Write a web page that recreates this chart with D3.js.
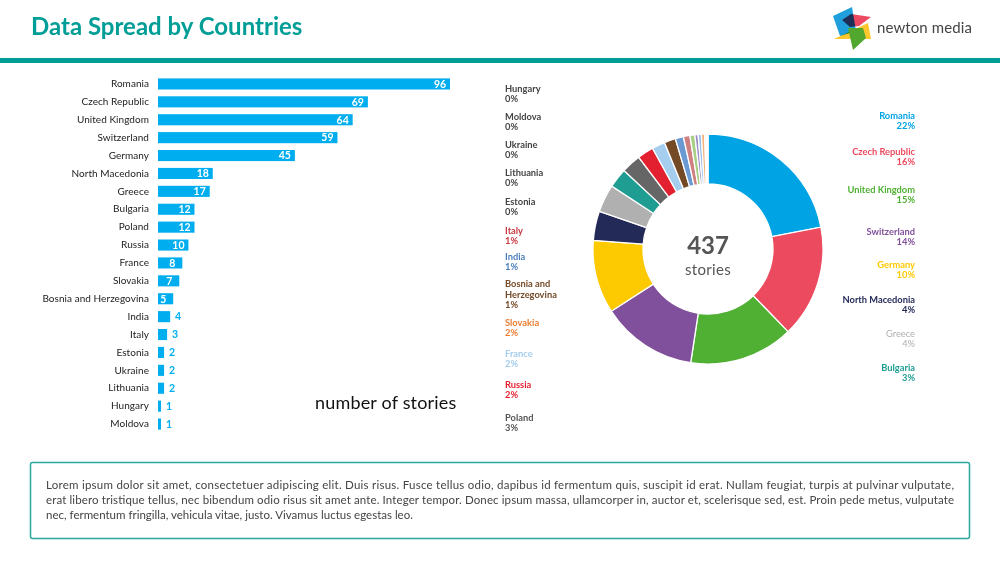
<!DOCTYPE html>
<html>
<head>
<meta charset="utf-8">
<script src="https://cdn.jsdelivr.net/npm/d3@7"></script>
<style>
  html, body { margin: 0; padding: 0; background: #fff; }
  text { font-family: Lato, sans-serif; }
</style>
</head>
<body>
<div id="chart"></div>
<script>
var countries = ["Romania", "Czech Republic", "United Kingdom", "Switzerland", "Germany",
  "North Macedonia", "Greece", "Bulgaria", "Poland", "Russia", "France", "Slovakia",
  "Bosnia and Herzegovina", "India", "Italy", "Estonia", "Ukraine", "Lithuania", "Hungary", "Moldova"];
var stories = [96, 69, 64, 59, 45, 18, 17, 12, 12, 10, 8, 7, 5, 4, 3, 2, 2, 2, 1, 1];
var shares = ["22%", "16%", "15%", "14%", "10%", "4%", "4%", "3%", "3%", "2%", "2%", "2%",
  "1%", "1%", "1%", "0%", "0%", "0%", "0%", "0%"];
var totalStories = "437";
var bodyLines = [
  "Lorem ipsum dolor sit amet, consectetuer adipiscing elit. Duis risus. Fusce tellus odio, dapibus id fermentum quis, suscipit id erat. Nullam feugiat, turpis at pulvinar vulputate,",
  "erat libero tristique tellus, nec bibendum odio risus sit amet ante. Integer tempor. Donec ipsum massa, ullamcorper in, auctor et, scelerisque sed, est. Proin pede metus, vulputate",
  "nec, fermentum fringilla, vehicula vitae, justo. Vivamus luctus egestas leo."
];

// colours, same order as countries
var sliceColors = ["#00a4e4", "#ec4a5e", "#4fb033", "#80509c", "#fdc900", "#232a58", "#b0b0b0", "#1f9d93",
  "#666666", "#e3202f", "#a5cdee", "#744a26", "#6b9ad2", "#cf7f80", "#a9cf86", "#9d8cc4", "#9cc3e6", "#f2b27a", "#e6e6e6", "#f2f2f2"];
var labelColors = ["#00a4e4", "#ec4a5e", "#4fb033", "#80509c", "#fdc900", "#232a58", "#b0b0b0", "#1f9d93",
  "#555555", "#e3202f", "#a5cdee", "#ed7d31", "#744a26", "#4a7ebb", "#c8393f", "#444444", "#444444", "#444444", "#444444", "#444444"];

// hand placed legend rows: first line y of each label
var rightLabelY = {"Romania": 119, "Czech Republic": 155, "United Kingdom": 193, "Switzerland": 235, "Germany": 268,
  "North Macedonia": 303, "Greece": 337, "Bulgaria": 371};
var leftLabelY = {"Hungary": 92, "Moldova": 120, "Ukraine": 148, "Lithuania": 176, "Estonia": 205, "Italy": 234,
  "India": 260, "Bosnia and Herzegovina": 287, "Slovakia": 326, "France": 357, "Russia": 388, "Poland": 421};

var teal = "#009e96";
var barBlue = "#00aeef";

var svg = d3.select("#chart").append("svg")
  .attr("width", 1000)
  .attr("height", 561)
  .style("display", "block");

// header
svg.append("text")
  .attr("x", 31).attr("y", 35)
  .attr("fill", teal)
  .style("font-size", "24px").style("font-weight", 700)
  .text("Data Spread by Countries");

svg.append("rect")
  .attr("x", 0).attr("y", 58).attr("width", 1000).attr("height", 5)
  .attr("fill", teal);

// logo
var logo = svg.append("g").style("isolation", "isolate");
[
  {c: "#fdc72e", p: "834,39 871,39 868,23 851,31", blend: "multiply"},
  {c: "#1fa0dc", p: "833,16 852,7 856,31 840,36", blend: "multiply"},
  {c: "#ec4a63", p: "842,20 851,14 871,17 859,26 850,27", blend: "multiply"},
  {c: "#52a72f", p: "848,28 863,28 866,38 853,50", blend: "normal"}
].forEach(function(d) {
  logo.append("polygon").attr("points", d.p).attr("fill", d.c).style("mix-blend-mode", d.blend);
});
svg.append("text")
  .attr("x", 877).attr("y", 33)
  .attr("fill", "#444")
  .style("font-size", "15px").style("letter-spacing", "0.1px")
  .text("newton media");

// bars
var xScale = d3.scaleLinear().domain([0, 96]).range([158, 450]);
var yScale = d3.scaleBand().domain(countries).range([75, 433]).paddingInner(0.38).paddingOuter(0.19);

var yAxis = d3.axisLeft(yScale).tickSize(0).tickPadding(9);
var yAxisGroup = svg.append("g")
  .attr("transform", "translate(158,0)")
  .call(yAxis);
yAxisGroup.select(".domain").remove();
yAxisGroup.selectAll("text")
  .style("font-family", "Lato, sans-serif")
  .style("font-size", "10px")
  .style("letter-spacing", "0.05px")
  .attr("fill", "#222");

var rows = countries.map(function(name, i) { return {name: name, value: stories[i], share: shares[i]}; });

svg.append("g").selectAll("rect")
  .data(rows)
  .enter()
  .append("rect")
  .attr("x", xScale(0))
  .attr("y", d => yScale(d.name))
  .attr("width", d => xScale(d.value) - xScale(0))
  .attr("height", yScale.bandwidth())
  .attr("fill", barBlue);

svg.append("g").selectAll("text")
  .data(rows)
  .enter()
  .append("text")
  .attr("x", d => d.value >= 5 ? xScale(d.value) - 10 : xScale(d.value) + 8)
  .attr("y", d => yScale(d.name) + yScale.bandwidth() / 2)
  .attr("dy", ".36em")
  .attr("text-anchor", "middle")
  .attr("fill", d => d.value >= 5 ? "#fff" : barBlue)
  .style("font-size", "10.5px").style("font-weight", 700)
  .text(d => d.value);

svg.append("text")
  .attr("x", 315).attr("y", 409)
  .attr("fill", "#111")
  .style("font-size", "18px").style("letter-spacing", "0.18px")
  .text("number of stories");

// donut
var pie = d3.pie().sort(null).value(d => d.value);
var arc = d3.arc().innerRadius(65).outerRadius(115);
var donut = svg.append("g").attr("transform", "translate(708,249)");

donut.selectAll("path")
  .data(pie(rows))
  .enter()
  .append("path")
  .attr("d", arc)
  .attr("fill", (d, i) => sliceColors[i])
  .attr("stroke", "#fff")
  .attr("stroke-width", 1.3);

donut.append("text")
  .attr("y", 5).attr("text-anchor", "middle")
  .attr("fill", "#555")
  .style("font-size", "24px").style("font-weight", 700)
  .text(totalStories);
donut.append("text")
  .attr("y", 26).attr("text-anchor", "middle")
  .attr("fill", "#555")
  .style("font-size", "15px").style("letter-spacing", "0.3px")
  .text("stories");

// slice labels
function sliceLabel(row, i, x, y, anchor) {
  var g = svg.append("text")
    .attr("x", x).attr("y", y)
    .attr("text-anchor", anchor)
    .attr("fill", labelColors[i])
    .style("font-size", "9.3px").style("font-weight", row.name == "Greece" ? 400 : 700);
  if (row.name == "Bosnia and Herzegovina") {
    g.append("tspan").attr("x", x).text("Bosnia and");
    g.append("tspan").attr("x", x).attr("dy", 11).text("Herzegovina");
    g.append("tspan").attr("x", x).attr("dy", 10).text(row.share);
  } else {
    g.append("tspan").attr("x", x).text(row.name);
    g.append("tspan").attr("x", x).attr("dy", 10).text(row.share);
  }
}

rows.forEach(function(row, i) {
  if (rightLabelY[row.name] !== undefined) sliceLabel(row, i, 915, rightLabelY[row.name], "end");
  if (leftLabelY[row.name] !== undefined) sliceLabel(row, i, 505, leftLabelY[row.name], "start");
});

// text box
svg.append("rect")
  .attr("x", 30.5).attr("y", 462.5).attr("width", 939).attr("height", 76).attr("rx", 2)
  .attr("fill", "#fff")
  .attr("stroke", "#2aa79f")
  .attr("stroke-width", 1.5);

svg.append("g").selectAll("text")
  .data(bodyLines)
  .enter()
  .append("text")
  .attr("x", 46)
  .attr("y", (d, i) => 489 + i * 14.8)
  .attr("fill", "#444")
  .style("font-size", "11.5px")
  .each(function(d, i) {
    // first two lines are justified to the box width
    if (i < 2) d3.select(this).attr("textLength", 908).attr("lengthAdjust", "spacing");
  })
  .text(d => d);
</script>
</body>
</html>
